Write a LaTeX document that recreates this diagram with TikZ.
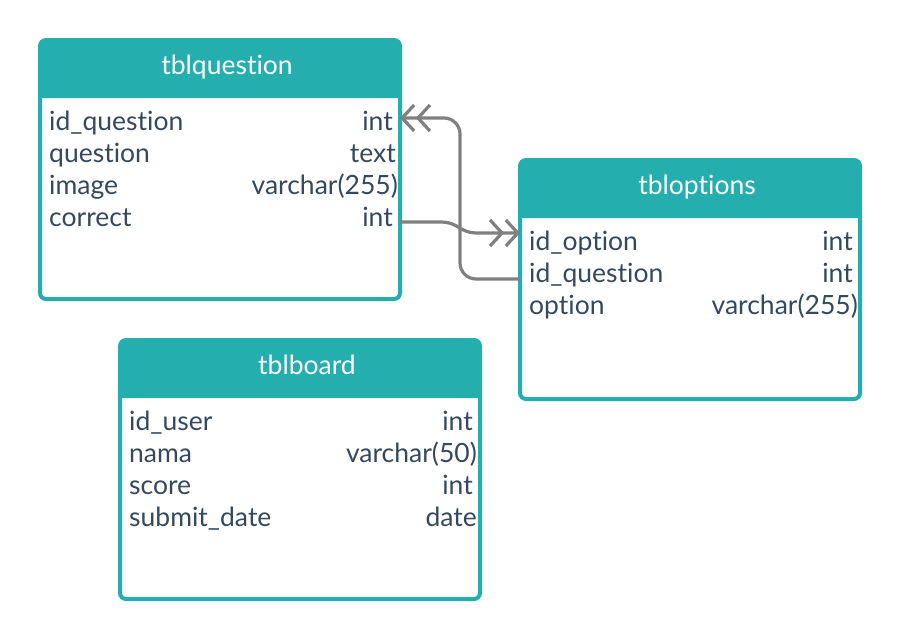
\documentclass[tikz,border=0pt]{standalone}
\usepackage{fontspec}
\setmainfont{Lato}[Ligatures={NoCommon}]
\usetikzlibrary{arrows.meta}
\definecolor{teal1}{HTML}{24AFAE}
\definecolor{ink}{HTML}{34495E}
\definecolor{conn}{HTML}{808080}
\newcommand{\erdtable}[6]{% name, left, top, right, bottom, title
  \node[tablebox, minimum width={#4-#2}, minimum height={#5-#3}] (#1) at ({(#2+#4)/2},{(#3+#5)/2}) {};
  \fill[teal1] (#2,#3+58) [rounded corners=6] -- (#2,#3) -- (#4,#3) [sharp corners] -- (#4,#3+58) -- cycle;
  \node[titletext] (#1-title) at ({(#2+#4)/2+7},#3+34) {#6};
}
\begin{document}
\begin{tikzpicture}[x=1pt,y=-1pt,
  tablebox/.style={draw=teal1, line width=4pt, fill=white, rounded corners=6pt, inner sep=0pt, outer sep=0pt},
  titletext/.style={text=white, anchor=base, font=\fontsize{26.5}{30}\selectfont, inner sep=0pt},
  coltext/.style={text=ink, anchor=base west, font=\fontsize{26.5}{30}\selectfont, inner sep=0pt},
  typetext/.style={text=ink, anchor=base east, font=\fontsize{26.5}{30}\selectfont, inner sep=0pt},
  relation/.style={draw=conn, line width=3.2pt, -{Straight Barb[length=12pt,width=26pt,sep=0pt]Straight Barb[length=12pt,width=26pt]}}]
\useasboundingbox (0,0) rectangle (901,640);
\fill[white] (0,0) rectangle (901,640);

% tblquestion
\erdtable{tq}{40}{40}{400}{299}{tblquestion}
\node[coltext] (tq-c1) at (49,130) {id\_question};
\node[typetext] (tq-t1) at (393,130) {int};
\node[coltext] (tq-c2) at (49,162) {question};
\node[typetext] (tq-t2) at (396,162) {text};
\node[coltext] (tq-c3) at (49,194) {image};
\node[typetext] (tq-t3) at (398,194) {varchar(255)};
\node[coltext] (tq-c4) at (49,226) {correct};
\node[typetext] (tq-t4) at (393,226) {int};

% tbloptions
\erdtable{to}{520}{160}{860}{399}{tbloptions}
\node[coltext] (to-c1) at (529,250) {id\_option};
\node[typetext] (to-t1) at (853,250) {int};
\node[coltext] (to-c2) at (529,282) {id\_question};
\node[typetext] (to-t2) at (853,282) {int};
\node[coltext] (to-c3) at (529,314) {option};
\node[typetext] (to-t3) at (858,314) {varchar(255)};

% tblboard
\erdtable{tb}{120}{340}{480}{599}{tblboard}
\node[coltext] (tb-c1) at (129,430) {id\_user};
\node[typetext] (tb-t1) at (473,430) {int};
\node[coltext] (tb-c2) at (129,462) {nama};
\node[typetext] (tb-t2) at (477,462) {varchar(50)};
\node[coltext] (tb-c3) at (129,494) {score};
\node[typetext] (tb-t3) at (473,494) {int};
\node[coltext] (tb-c4) at (129,526) {submit\_date};
\node[typetext] (tb-t4) at (477,526) {date};

% relations
\draw[relation] (tq.east |- 0,222) -- (440,222) .. controls (460,222) and (458,233) .. (478,233) -- (to.west |- 0,233);
\draw[relation, rounded corners=16pt] (to.west |- 0,279) -- (460,279) -- (460,118) -- (tq.east |- 0,118);
\end{tikzpicture}
\end{document}
